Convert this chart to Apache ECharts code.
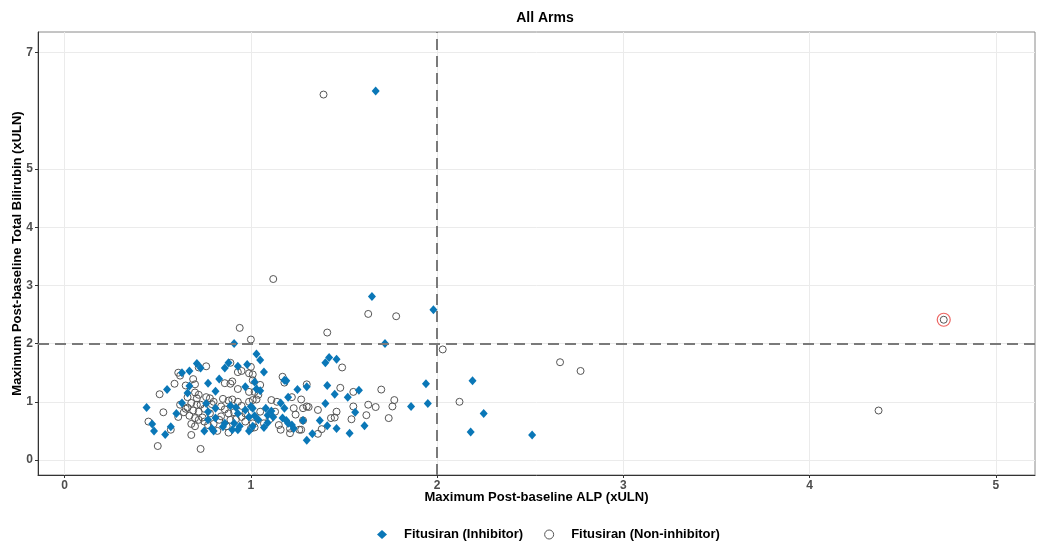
<!DOCTYPE html>
<html>
<head>
<meta charset="utf-8">
<script src="https://cdn.jsdelivr.net/npm/echarts@6/dist/echarts.min.js"></script>
<style>
html,body{margin:0;padding:0;background:#fff;}
#chart{width:1037px;height:545px;}
</style>
</head>
<body>
<div id="chart"></div>
<script>
// ---- data ----
const seriesNames = ['Fitusiran (Inhibitor)', 'Fitusiran (Non-inhibitor)'];
const xTicks = [0, 1, 2, 3, 4, 5];
const yTicks = [0, 1, 2, 3, 4, 5, 7];
const refX = 2;
const refY = 2;
const highlighted = [[4.72, 2.41]];

const inhibitor = [
[1.67,6.34],[1.65,2.81],[1.98,2.58],[1.72,2.00],[0.91,2.00],
[1.03,1.82],[1.05,1.72],[1.07,1.51],[1.40,1.67],[1.42,1.76],[1.46,1.73],
[1.94,1.31],[2.19,1.36],[1.95,0.97],[1.86,0.92],[1.61,0.59],[2.25,0.80],[2.18,0.48],[2.51,0.43],
[1.58,1.20],[1.41,1.28],[1.45,1.13],[1.52,1.08],[1.56,0.82],[1.53,0.46],[1.40,0.97],[1.41,0.59],[1.46,0.54],[1.33,0.45],[1.30,0.34],[1.37,0.68],[1.30,1.26],[1.25,1.21],[1.28,0.68],[1.22,0.60],
[1.02,1.34],[1.03,1.22],[1.05,1.19],[1.18,1.37],[1.19,1.36],[1.20,1.08],[1.16,0.98],[1.00,0.92],[1.02,0.76],[1.04,0.69],[1.08,0.89],[1.09,0.77],[1.11,0.84],[1.12,0.74],[1.01,0.58],[1.07,0.56],[1.09,0.64],[1.17,0.72],[1.19,0.68],[1.20,0.63],[1.23,0.54],[1.18,0.89],
[0.44,0.90],[0.47,0.62],[0.48,0.50],[0.55,1.21],[0.54,0.44],[0.57,0.57],[0.60,0.80],[0.63,1.50],[0.63,0.98],[0.66,1.15],[0.67,1.53],[0.67,1.27],[0.71,1.66],[0.73,1.58],
[0.86,1.58],[0.88,1.67],[0.93,1.61],[0.98,1.64],[0.77,1.32],[0.83,1.39],[0.97,1.26],[0.81,1.18],
[0.76,0.97],[0.77,0.83],[0.81,0.89],[0.89,0.93],[0.92,0.90],[0.93,0.80],[0.97,0.86],[0.99,0.74],[1.01,0.89],[0.77,0.69],[0.81,0.72],[0.86,0.63],[0.91,0.63],[0.94,0.58],[0.75,0.50],[0.79,0.54],[0.80,0.50],[0.85,0.57],[0.90,0.52],[0.93,0.52],[0.99,0.50]
];

const nonInhibitor = [
[1.39,6.28],[1.12,3.11],[1.41,2.19],[1.63,2.51],[1.78,2.47],[2.03,1.90],[0.94,2.27],[1.00,2.07],
[4.72,2.41],[2.66,1.68],[2.77,1.53],[4.37,0.85],
[1.49,1.59],[2.12,1.00],[1.77,1.03],[1.76,0.92],[1.74,0.72],[1.70,1.21],[1.67,0.91],[1.63,0.95],[1.62,0.77],
[1.55,1.17],[1.48,1.24],[1.55,0.92],[1.54,0.70],[1.46,0.83],[1.45,0.73],[1.43,0.72],[1.38,0.53],[1.36,0.45],[1.36,0.86],[1.28,0.89],[1.31,0.91],[1.30,1.30],[1.27,1.04],[1.23,0.89],[1.28,0.68],[1.26,0.52],[1.21,0.46],
[1.00,1.60],[1.01,1.47],[1.05,1.29],[1.02,1.17],[1.04,1.12],[1.17,1.43],[1.18,1.33],[1.22,1.08],[1.11,1.03],[1.14,1.00],[1.03,1.04],[1.30,0.92],[1.05,0.83],[1.13,0.83],[1.02,0.56],[1.16,0.52],[1.21,0.54],[1.27,0.52],[1.10,0.70],[1.07,0.63],[1.15,0.60],[1.24,0.78],
[0.45,0.66],[0.50,0.24],[0.51,1.13],[0.53,0.82],[0.57,0.52],[0.59,1.31],[0.61,0.74],[0.61,1.50],[0.62,1.45],[0.65,0.88],[0.65,1.28],[0.68,0.43],[0.70,1.16],[0.69,1.39],[0.72,1.59],[0.76,1.61],[0.73,0.19],
[0.89,1.67],[0.93,1.51],[0.95,1.53],[0.90,1.35],[0.99,1.49],[1.01,1.37],[0.70,1.30],[0.72,1.12],[0.86,1.32],[0.89,1.31],[0.93,1.22],[0.99,1.17],[0.71,1.06],[0.76,1.08],[0.78,1.06],[0.80,1.00],[0.73,0.95],[0.88,1.02],[0.90,1.04],[0.93,1.00],[0.99,1.00],[1.01,1.03],[0.72,0.83],[0.74,0.73],[0.86,0.87],[0.88,0.80],[0.95,0.74],[0.72,0.69],[0.77,0.60],[0.83,0.69],[0.89,0.69],[0.97,0.66],[1.01,0.63],[1.00,0.54],
[0.62,0.95],[0.64,0.82],[0.66,0.90],[0.67,0.76],[0.68,0.98],[0.69,0.85],[0.70,0.72],[0.71,0.95],[0.75,0.88],[0.75,0.66],[0.68,0.62],[0.70,0.58],[0.78,0.80],[0.79,0.96],[0.66,1.08],[0.84,0.75],[0.85,1.05],[0.80,0.62],[0.87,0.58],[0.84,0.92],[0.91,0.82],[0.95,0.93],[0.97,0.80],[0.92,0.70],[0.88,0.47],[0.82,0.50]
];

// ---- chart ----
const chart = echarts.init(document.getElementById('chart'), null, {renderer: 'canvas'});
const FONT = '"Liberation Sans", Arial, sans-serif';
const BLUE = '#0a77b7';

const option = {
  backgroundColor: '#ffffff',
  animation: false,
  title: {
    text: 'All Arms',
    left: 540, top: 6, textAlign: 'center',
    textStyle: {fontFamily: FONT, fontWeight: 'bold', fontSize: 14, color: '#000'}
  },
  grid: {left: 38, right: 2, top: 32, bottom: 70, show: true, borderColor: '#8a8a8a', borderWidth: 1,
         containLabel: false, outerBoundsMode: 'none'},
  xAxis: {
    type: 'value', min: -0.143, max: 5.21,
    name: 'Maximum Post-baseline ALP (xULN)', nameLocation: 'middle', nameGap: 16, nameMoveOverlap: false,
    nameTextStyle: {fontFamily: FONT, fontWeight: 'bold', fontSize: 13, color: '#000', verticalAlign: 'top'},
    axisLine: {show: true, onZero: false, lineStyle: {color: '#333', width: 1}},
    axisTick: {show: true, length: 3, lineStyle: {color: '#333'}, customValues: xTicks},
    axisLabel: {customValues: xTicks, fontFamily: FONT, fontWeight: 'bold', fontSize: 12, color: '#4d4d4d', margin: 5},
    splitLine: {show: true, lineStyle: {color: '#ebebeb', width: 1}}
  },
  yAxis: {
    type: 'value', min: -0.258, max: 7.355,
    name: 'Maximum Post-baseline Total Bilirubin (xULN)', nameLocation: 'middle', nameGap: 14, nameMoveOverlap: false,
    nameTextStyle: {fontFamily: FONT, fontWeight: 'bold', fontSize: 13, color: '#000'},
    axisLine: {show: true, onZero: false, lineStyle: {color: '#333', width: 1}},
    axisTick: {show: true, length: 3, lineStyle: {color: '#333'}, customValues: yTicks},
    axisLabel: {customValues: yTicks, fontFamily: FONT, fontWeight: 'bold', fontSize: 12, color: '#4d4d4d', margin: 5},
    splitLine: {show: true, lineStyle: {color: '#ebebeb', width: 1}}
  },
  legend: {
    top: 523, left: 372,
    itemGap: 21, itemWidth: 10, itemHeight: 9,
    textStyle: {fontFamily: FONT, fontWeight: 'bold', fontSize: 13, color: '#000', padding: [0,0,0,12]},
    data: [
      {name: seriesNames[0], icon: 'diamond', itemStyle: {color: BLUE, borderWidth: 0}},
      {name: seriesNames[1], icon: 'circle', itemStyle: {color: 'rgba(0,0,0,0)', borderColor: '#555', borderWidth: 1}}
    ]
  },
  series: [
    {
      name: seriesNames[1], type: 'scatter', data: nonInhibitor,
      symbol: 'circle', symbolSize: 7, z: 3,
      itemStyle: {color: 'rgba(255,255,255,0)', borderColor: '#555', borderWidth: 1, opacity: 1},
      markLine: {
        silent: true, symbol: ['none', 'none'], label: {show: false},
        lineStyle: {color: '#7a7a7a', width: 2, type: [11, 6]},
        data: [{xAxis: refX}, {yAxis: refY}]
      }
    },
    {
      name: seriesNames[0], type: 'scatter', data: inhibitor,
      symbol: 'diamond', symbolSize: [8, 9], z: 4,
      itemStyle: {color: BLUE, opacity: 1}
    },
    {
      name: 'highlight', type: 'scatter', data: highlighted,
      symbol: 'circle', symbolSize: 13, z: 5, silent: true,
      itemStyle: {color: 'rgba(255,255,255,0)', borderColor: '#e8403c', borderWidth: 1.2}
    }
  ]
};
chart.setOption(option);
</script>
</body>
</html>
